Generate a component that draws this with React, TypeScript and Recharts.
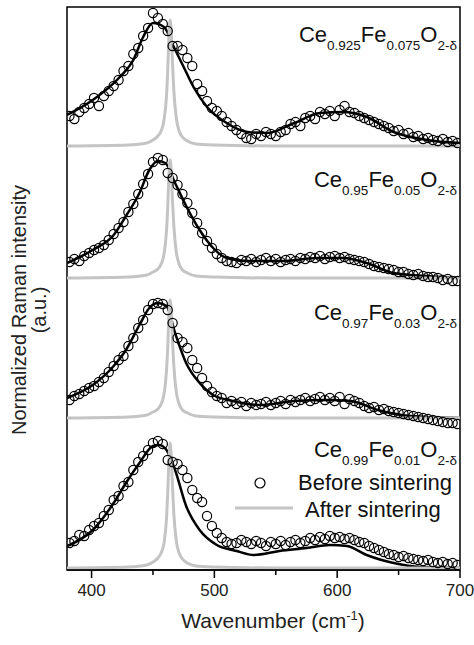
import React from 'react';
import { ComposedChart, Line, Scatter, XAxis, YAxis, ReferenceArea } from 'recharts';

// shared wavenumber grid of the measured points (cm-1)
const wavenumbers = [
  382, 386, 390, 394, 398, 402, 406, 410, 414, 418,
  422, 426, 430, 434, 438, 442, 446, 450, 454, 458,
  462, 466, 470, 474, 478, 482, 486, 490, 494, 498,
  502, 506, 510, 514, 518, 522, 526, 530, 534, 538,
  542, 546, 550, 554, 558, 562, 566, 570, 574, 578,
  582, 586, 590, 594, 598, 602, 606, 610, 614, 618,
  622, 626, 630, 634, 638, 642, 646, 650, 654, 658,
  662, 666, 670, 674, 678, 682, 686, 690, 694, 698,
];

// before sintering (open circles), a.u.
const before925 = [
  30, 27, 34, 38, 42, 48, 40, 50, 55, 60,
  66, 75, 80, 92, 98, 110, 118, 133, 128, 122,
  115, 100, 100, 96, 88, 80, 62, 55, 45, 38,
  35, 30, 24, 20, 16, 12, 8, 7, 12, 10,
  14, 12, 10, 14, 16, 22, 24, 20, 28, 30,
  27, 34, 32, 35, 30, 36, 40, 34, 33, 30,
  28, 26, 24, 22, 20, 18, 15, 16, 12, 13,
  9, 10, 7, 8, 6, 5, 7, 4, 5, 3,
];
const before95 = [
  16, 19, 17, 22, 25, 28, 30, 33, 38, 44,
  50, 56, 66, 74, 84, 94, 104, 116, 120, 118,
  105, 100, 93, 84, 75, 65, 55, 45, 37, 30,
  24, 20, 17, 16, 15, 18, 17, 19, 16, 18,
  20, 17, 19, 16, 18, 19, 17, 20, 19, 21,
  20, 22, 19, 21, 22, 20, 21, 19, 18, 17,
  16, 14, 12, 11, 10, 9, 8, 6, 6, 4,
  3, 4, 2, 1, 1, 0, -2, -1, -3, -3,
];
const before97 = [
  18, 22, 24, 27, 30, 32, 36, 40, 46, 52,
  58, 62, 72, 80, 90, 98, 108, 114, 115, 114,
  108, 95, 80, 76, 70, 58, 50, 40, 32, 26,
  22, 20, 15, 17, 14, 16, 12, 15, 13, 14,
  16, 13, 15, 17, 14, 18, 16, 18, 20, 17,
  19, 21, 18, 20, 17, 21, 14, 19, 17, 15,
  12, 10, 11, 8, 9, 7, 6, 5, 4, 3,
  2, 1, 0, -1, -2, -3, -4, -5, -5, -6,
];
const before99 = [
  25, 27, 33, 32, 38, 42, 45, 52, 58, 68,
  72, 82, 86, 98, 106, 112, 118, 125, 127, 124,
  108, 106, 104, 98, 90, 78, 70, 66, 52, 42,
  35, 30, 26, 24, 25, 28, 26, 24, 27, 25,
  22, 26, 24, 27, 23, 26, 28, 25, 27, 30,
  28, 31, 29, 32, 30, 31, 29, 30, 28, 26,
  25, 22, 20, 18, 16, 14, 13, 11, 12, 10,
  9, 8, 7, 8, 6, 5, 6, 4, 5, 3,
];

// fitted curves (black)
const fitX925 = [380, 401, 423, 434, 442, 450, 459, 467, 475, 483, 494, 510, 527, 543, 565, 586, 605, 624, 646, 673, 700];
const fitY925 = [31, 46, 69, 86, 109, 123, 119, 99, 79, 59, 39, 23, 14, 13, 23, 33, 34, 29, 14, 6, 3];
const fitX95 = [380, 401, 418, 428, 439, 447, 454, 460, 468, 477, 488, 499, 510, 527, 556, 584, 605, 624, 646, 673, 700];
const fitY95 = [15, 28, 43, 62, 85, 108, 117, 115, 95, 72, 48, 30, 20, 17, 17, 20, 20, 15, 5, 2, 0];
const fitX97 = [380, 401, 418, 428, 439, 447, 454, 461, 468, 477, 488, 499, 515, 537, 565, 592, 611, 633, 660, 700];
const fitY97 = [20, 33, 52, 68, 93, 110, 115, 112, 85, 55, 35, 23, 17, 13, 17, 18, 17, 8, 2, 0];
const fitX99 = [380, 401, 418, 428, 439, 450, 455, 461, 468, 477, 488, 502, 518, 532, 553, 575, 594, 608, 624, 646, 668, 700];
const fitY99 = [22, 38, 65, 85, 105, 122, 123, 118, 98, 62, 38, 23, 17, 13, 17, 20, 23, 22, 13, 5, 1, 0];

// after sintering (grey)
const afterX = [380, 430, 445, 450, 454, 457, 459, 461, 462, 463, 464, 465, 466, 467, 469, 471, 474, 478, 485, 500, 550, 700];
const after925 = [0, 1, 3, 6, 10, 16, 26, 50, 75, 110, 126, 110, 80, 55, 28, 16, 9, 5, 2, 1, 0, 0];
const after95 = [0, 1, 3, 6, 9, 15, 24, 47, 70, 103, 118, 103, 75, 52, 26, 15, 8, 5, 2, 1, 0, 0];
const after97 = [0, 1, 3, 6, 9, 15, 24, 47, 70, 103, 118, 103, 75, 52, 26, 15, 8, 5, 2, 1, 0, 0];
const after99 = [0, 1, 3, 6, 10, 16, 25, 49, 74, 108, 125, 108, 79, 54, 27, 16, 9, 5, 2, 1, 0, 0];

const ceFrac = ['0.925', '0.95', '0.97', '0.99'];
const feFrac = ['0.075', '0.05', '0.03', '0.01'];
const offsets = [424, 292, 152, 2];
const xTicks = [400, 450, 500, 550, 600, 650, 700];

const FONT = '"Liberation Sans", Arial, Helvetica, sans-serif';
const GREY = '#c4c4c4';

const panels = [
  { before: before925, fx: fitX925, fy: fitY925, after: after925 },
  { before: before95, fx: fitX95, fy: fitY95, after: after95 },
  { before: before97, fx: fitX97, fy: fitY97, after: after97 },
  { before: before99, fx: fitX99, fy: fitY99, after: after99 },
].map((p, k) => ({
  pts: wavenumbers.map((w, i) => ({ w, y: p.before[i] + offsets[k] })),
  fit: p.fx.map((w, i) => ({ w, y: p.fy[i] + offsets[k] })),
  after: afterX.map((w, i) => ({ w, y: p.after[i] + offsets[k] })),
}));

const labelY = [42, 187, 320, 457];

const Tick = ({ x, y, payload }: any) => {
  const major = payload.value % 100 === 0;
  return (
    <g>
      <line x1={x} x2={x} y1={y} y2={y + (major ? 8 : 5)} stroke="#000" strokeWidth={1.5} />
      {major && (
        <text x={x} y={y + 26} textAnchor="middle" fontSize={17} fill="#222" fontFamily={FONT}>
          {payload.value}
        </text>
      )}
    </g>
  );
};

const Ring = (props: any) => (
  <circle cx={props.cx} cy={props.cy} r={4.6} fill="none" stroke="#000" strokeWidth={1.2} />
);

export default function App() {
  return (
    <div style={{ position: 'absolute', left: 0, top: 0, width: 474, height: 645, background: '#fff' }}>
      <ComposedChart width={474} height={645} margin={{ top: 7, right: 14, bottom: 0, left: 67 }}>
        <XAxis
          dataKey="w"
          type="number"
          domain={[380, 700]}
          ticks={xTicks}
          allowDataOverflow
          height={75}
          tickSize={0}
          tickMargin={0}
          tickLine={false}
          tick={<Tick />}
          axisLine={{ stroke: '#000', strokeWidth: 1.5 }}
        />
        <YAxis dataKey="y" type="number" domain={[0, 563]} hide allowDataOverflow />
        <ReferenceArea x1={380} x2={700} y1={0} y2={563} fill="none" stroke="#000" strokeWidth={1.5} />
        {panels.map((p, k) => (
          <Scatter key={`s${k}`} data={p.pts} dataKey="y" shape={<Ring />} isAnimationActive={false} />
        ))}
        {panels.map((p, k) => (
          <Line key={`f${k}`} data={p.fit} dataKey="y" type="monotone" stroke="#000" strokeWidth={2.5} dot={false} isAnimationActive={false} />
        ))}
        {panels.map((p, k) => (
          <Line key={`a${k}`} data={p.after} dataKey="y" type="monotone" stroke={GREY} strokeWidth={3} dot={false} isAnimationActive={false} />
        ))}

        {ceFrac.map((c, k) => (
          <text key={`l${k}`} x={457} y={labelY[k]} textAnchor="end" fontSize={22} fontFamily={FONT} fill="#111">
            Ce<tspan fontSize={13.5} dy={8}>{c}</tspan>
            <tspan dy={-8}>Fe</tspan>
            <tspan fontSize={13.5} dy={8}>{feFrac[k]}</tspan>
            <tspan dy={-8}>O</tspan>
            <tspan fontSize={13.5} dy={8}>2-δ</tspan>
          </text>
        ))}

        <circle cx={260} cy={483} r={5} fill="none" stroke="#000" strokeWidth={1.2} />
        <text x={298} y={490} fontSize={22} fontFamily={FONT} fill="#111">Before sintering</text>
        <line x1={235} x2={293} y1={508} y2={508} stroke={GREY} strokeWidth={3} />
        <text x={305} y={517} fontSize={22} fontFamily={FONT} fill="#111">After sintering</text>

        <text x={273} y={628} textAnchor="middle" fontSize={21} fontFamily={FONT} fill="#222">
          Wavenumber (cm<tspan fontSize={13} dy={-8}>-1</tspan><tspan dy={8}>)</tspan>
        </text>
        <text x={26} y={310} transform="rotate(-90 26 310)" textAnchor="middle" fontSize={20} fontFamily={FONT} fill="#222">
          Normalized Raman intensity
        </text>
        <text x={46} y={310} transform="rotate(-90 46 310)" textAnchor="middle" fontSize={20} fontFamily={FONT} fill="#222">
          (a.u.)
        </text>
      </ComposedChart>
    </div>
  );
}
